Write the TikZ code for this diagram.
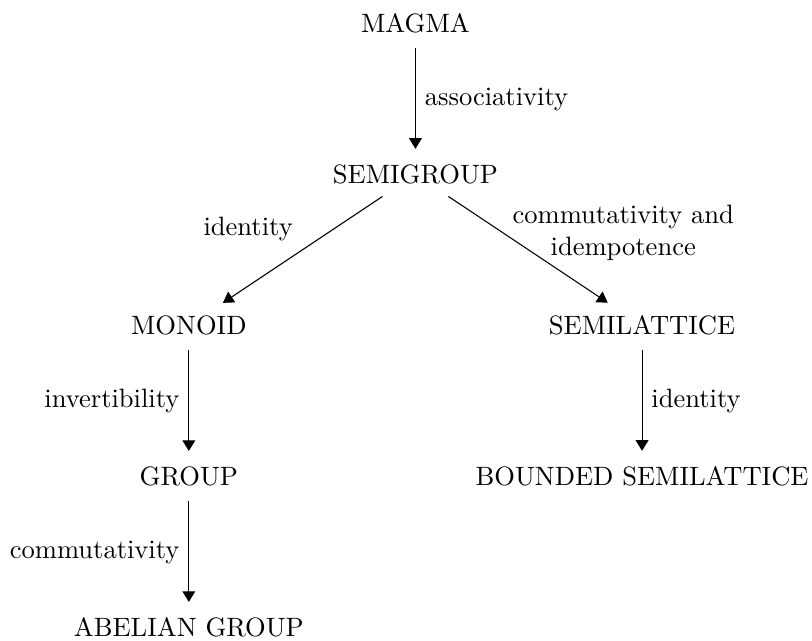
\documentclass[tikz,border=0pt]{standalone}
\usepackage{tikz}
\usetikzlibrary{arrows.meta, positioning}
\tikzset{
  obj/.style={font=\normalsize},
  imp/.style={-{Triangle[length=4pt, width=4.8pt]}, shorten <=2pt, shorten >=2.5pt},
  lbl/.style={font=\normalsize, align=center}
}
\begin{document}
\begin{tikzpicture}[on grid, node distance=2cm and 3cm]
  \useasboundingbox (-5.50,0.31) rectangle (5.25,-8.17);
  \node[obj] (magma) at (0,0) {MAGMA};
  \node[obj, below=of magma] (semigroup) {SEMIGROUP};
  \node[obj, below left=of semigroup] (monoid) {MONOID};
  \node[obj, below right=of semigroup] (semilattice) {SEMILATTICE};
  \node[obj, below=of monoid] (group) {GROUP};
  \node[obj, below=of semilattice] (bsemilattice) {BOUNDED SEMILATTICE};
  \node[obj, below=of group] (abelian) {ABELIAN GROUP};

  \draw[imp] (magma) -- node[lbl, midway, right] {associativity} (semigroup);
  \draw[imp] (semigroup) -- node[lbl, midway, above left] {identity} (monoid);
  \draw[imp] (semigroup) -- node[lbl, pos=0.35, anchor=west] {commutativity and\\idempotence} (semilattice);
  \draw[imp] (monoid) -- node[lbl, midway, left] {invertibility} (group);
  \draw[imp] (semilattice) -- node[lbl, midway, right] {identity} (bsemilattice);
  \draw[imp] (group) -- node[lbl, midway, left] {commutativity} (abelian);
\end{tikzpicture}
\end{document}
